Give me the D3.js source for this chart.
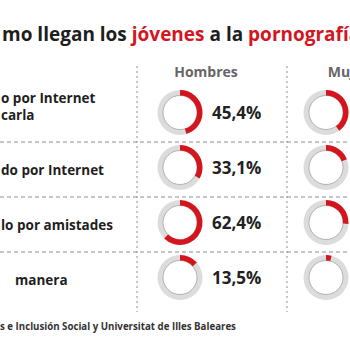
<!DOCTYPE html>
<html>
<head>
<meta charset="utf-8">
<script src="https://cdn.jsdelivr.net/npm/d3@7"></script>
<style>
  body { margin: 0; background: #fff; }
  svg { display: block; font-family: 'Open Sans', sans-serif; font-weight: 700; }
</style>
</head>
<body>
<svg id="chart" width="350" height="350"></svg>
<script>
// title pieces, red ones highlighted
let titleParts = ["mo llegan los ", "jóvenes", " a la ", "pornografía"];
let titleRed = [false, true, false, true];

let groups = ["Hombres", "Mujeres"];
let rowLabels = [["o por Internet", "carla"], ["do por Internet"], ["lo por amistades"], ["manera"]];
let hombres = [45.4, 33.1, 62.4, 13.5];
let mujeres = [40, 19, 26, 4];
let source = "s e Inclusión Social y Universitat de Illes Baleares";

let red = "#d5151d";
let svg = d3.select("#chart");

// title
let title = svg.append("text")
  .attr("x", 2)
  .attr("y", 41)
  .attr("font-size", 19);
title.selectAll("tspan")
  .data(titleParts)
  .enter().append("tspan")
  .attr("fill", (d, i) => titleRed[i] ? red : "#1e1e1e")
  .text(d => d);

let x = d3.scaleBand().domain(groups).range([137, 437]);
let y = d3.scaleBand().domain(d3.range(rowLabels.length)).range([85, 305]);
let angle = d3.scaleLinear().domain([0, 100]).range([0, 2 * Math.PI]);
let arc = d3.arc().innerRadius(17).outerRadius(22.5);

// dashed grid
for (let r = 1; r < rowLabels.length; r++) {
  svg.append("line")
    .attr("x1", 0).attr("x2", 350)
    .attr("y1", y(r) + 2).attr("y2", y(r) + 2)
    .attr("stroke", "#8c8c8c")
    .attr("stroke-dasharray", "4,3");
}
groups.forEach(g => {
  svg.append("line")
    .attr("x1", x(g)).attr("x2", x(g))
    .attr("y1", 66).attr("y2", 312)
    .attr("stroke", "#8c8c8c")
    .attr("stroke-dasharray", "2,3");

  svg.append("text")
    .attr("x", x(g) + 69)
    .attr("y", 77)
    .attr("text-anchor", "middle")
    .attr("font-size", 14)
    .attr("fill", "#666")
    .text(g);
});

// row labels
rowLabels.forEach((lines, r) => {
  let cy = y(r) + y.bandwidth() / 2;
  let indent = lines[0] === "manera" ? 15 : 1;
  lines.forEach((t, j) => {
    svg.append("text")
      .attr("x", indent)
      .attr("y", cy + 7.5 - (lines.length - 1 - j) * 17.5)
      .attr("font-size", 13.5)
      .attr("fill", "#1e1e1e")
      .text(t);
  });
});

// rings
let series = { Hombres: hombres, Mujeres: mujeres };
groups.forEach((g, gi) => {
  let cx = x(g) + (gi === 0 ? 43 : 39);
  series[g].forEach((v, r) => {
    let cy = y(r) + y.bandwidth() / 2;
    let ring = svg.append("g").attr("transform", "translate(" + cx + "," + cy + ")");
    ring.append("path")
      .attr("d", arc({ startAngle: 0, endAngle: 2 * Math.PI }))
      .attr("fill", "#dcdcdc");
    ring.append("circle")
      .attr("r", 17)
      .attr("fill", "none")
      .attr("stroke", "#9a9a9a")
      .attr("stroke-width", 0.7);
    ring.append("path")
      .attr("d", arc({ startAngle: 0, endAngle: angle(v) }))
      .attr("fill", red);
    if (gi === 0) {
      svg.append("text")
        .attr("x", cx + 32)
        .attr("y", cy + 6)
        .attr("font-size", 17)
        .attr("fill", "#222")
        .text(d3.format(".1f")(v).replace(".", ",") + "%");
    }
  });
});

svg.append("text")
  .attr("x", 0)
  .attr("y", 330)
  .attr("font-size", 9.7)
  .attr("fill", "#333")
  .text(source);
</script>
</body>
</html>
